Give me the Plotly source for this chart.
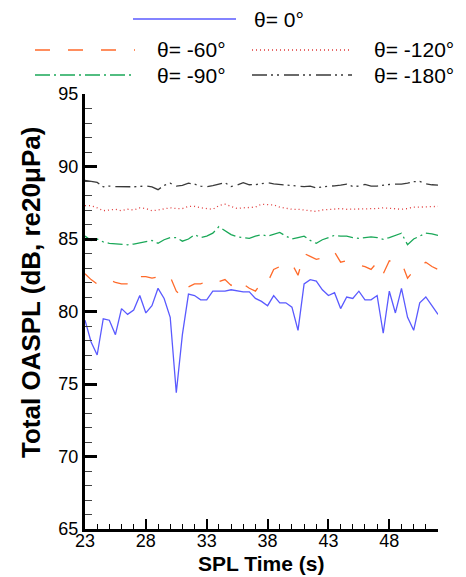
import plotly.graph_objects as go

time_s = [23.0 + 0.5 * i for i in range(59)]

oaspl_0 = [79.4, 77.9, 77.0, 79.5, 79.4, 78.4, 80.2, 79.8, 80.1, 81.1, 79.9, 80.4, 81.6, 80.9, 79.6,
           74.4, 78.4, 81.2, 81.1, 80.8, 80.8, 81.4, 81.4, 81.4, 81.5, 81.4, 81.35, 81.35, 80.9, 80.7,
           80.4, 81.1, 80.6, 80.6, 80.3, 78.7, 81.9, 82.2, 82.1, 81.5, 81.1, 81.3, 80.2, 81.0, 80.9,
           81.4, 80.8, 80.8, 81.1, 78.5, 81.4, 79.9, 81.6, 79.6, 78.7, 80.6, 81.0, 80.4, 79.8]

oaspl_m60 = [82.6, 82.2, 81.9, 82.1, 82.2, 82.0, 81.9, 81.9, 81.8, 82.4, 82.4, 82.3, 82.4, 82.5, 82.4,
             81.4, 81.0, 81.7, 81.9, 81.9, 82.1, 81.95, 82.06, 82.2, 81.8, 82.2, 81.9, 81.6, 81.4, 82.0,
             82.0, 82.9, 83.1, 83.2, 83.3, 82.5, 84.0, 83.8, 83.6, 83.7, 84.0, 84.1, 83.4, 83.5, 83.4,
             83.2, 83.1, 82.9, 83.4, 82.6, 83.5, 83.4, 83.4, 82.3, 82.8, 83.1, 83.4, 83.1, 82.9]

oaspl_m90 = [85.2, 84.9, 85.0, 84.8, 84.7, 84.66, 84.65, 84.6, 84.65, 84.75, 84.85, 84.9, 84.7, 84.95, 85.1,
             85.1, 84.85, 85.0, 85.3, 85.1, 85.2, 85.4, 85.85, 85.55, 85.3, 85.15, 85.1, 85.05, 85.2, 85.3,
             85.2, 85.3, 85.45, 85.2, 85.0, 85.1, 85.2, 84.9, 84.7, 84.95, 85.1, 85.25, 85.2, 85.2, 85.1,
             85.05, 85.1, 85.15, 85.1, 84.98, 85.1, 85.25, 85.4, 84.6, 85.0, 85.2, 85.4, 85.35, 85.25]

oaspl_m120 = [87.3, 87.3, 87.15, 86.95, 87.0, 87.05, 86.95, 87.05, 87.0, 87.15, 87.1, 86.95, 87.0, 87.05, 87.15,
              87.1, 87.1, 87.25, 87.25, 87.15, 87.1, 87.05, 87.3, 87.4, 87.25, 87.1, 87.15, 87.2, 87.2, 87.4,
              87.4, 87.35, 87.2, 87.1, 87.05, 87.05, 87.0, 86.95, 86.9, 87.0, 87.05, 87.1, 87.1, 87.05, 87.05,
              87.05, 87.05, 87.05, 87.1, 87.15, 87.1, 87.1, 87.05, 87.1, 87.2, 87.2, 87.2, 87.2, 87.25]

oaspl_m180 = [89.05, 88.95, 88.9, 88.6, 88.65, 88.62, 88.6, 88.58, 88.6, 88.62, 88.66, 88.6, 88.4, 88.7, 88.85,
              88.65, 88.7, 88.85, 88.78, 88.65, 88.6, 88.68, 88.8, 88.88, 88.62, 88.72, 88.88, 88.74, 88.75, 88.84,
              88.88, 88.8, 88.76, 88.72, 88.67, 88.63, 88.61, 88.65, 88.52, 88.6, 88.66, 88.67, 88.72, 88.78, 88.62,
              88.65, 88.76, 88.65, 88.65, 88.72, 88.76, 88.78, 88.78, 88.85, 88.95, 88.98, 88.8, 88.74, 88.72]

x_ticks = [23, 28, 33, 38, 43, 48]
y_ticks = [65, 70, 75, 80, 85, 90, 95]

FONT = "Liberation Sans, Arial, sans-serif"

# figure geometry (pixels) used to place the hand-built legend
W, H = 466, 577
ML, MR, MT, MB = 85, 28, 94, 48
PW, PH = W - ML - MR, H - MT - MB


def px_to_paper(px, py):
    return (px - ML) / PW, (H - MB - py) / PH


series = [
    # name, values, colour, dash, (line x0, line x1, text x, row y)
    ("θ= 0°", oaspl_0, "#5a5aff", "solid", (133, 236, 252, 19)),
    ("θ= -60°", oaspl_m60, "#ff6a2a", "15px,18px", (35, 135, 155, 50)),
    ("θ= -120°", oaspl_m120, "#e03a3a", "1px,3px", (252, 352, 372, 50)),
    ("θ= -90°", oaspl_m90, "#1aa858", "15px,4px,2px,4px", (35, 135, 155, 75)),
    ("θ= -180°", oaspl_m180, "#3a3a3a", "15px,4px,2px,4px,2px,5px", (252, 352, 372, 75)),
]

fig = go.Figure()
shapes, annotations = [], []
for name, vals, color, dash, (lx0, lx1, tx, ry) in series:
    fig.add_trace(go.Scatter(
        x=time_s, y=vals, mode="lines", name=name, showlegend=False,
        line=dict(color=color, width=1.3, dash=dash),
    ))
    x0, y0 = px_to_paper(lx0, ry)
    x1, _ = px_to_paper(lx1, ry)
    shapes.append(dict(type="line", xref="paper", yref="paper", x0=x0, x1=x1, y0=y0, y1=y0,
                       line=dict(color=color, width=1.3, dash=dash)))
    txp, typ = px_to_paper(tx, ry)
    annotations.append(dict(text=name, xref="paper", yref="paper", x=txp, y=typ,
                            xanchor="left", yanchor="middle", showarrow=False,
                            font=dict(family=FONT, size=21, color="black")))

# axis titles
ytx, yty = px_to_paper(31, 293)
annotations.append(dict(text="<b>Total OASPL (dB, re20μPa)</b>", xref="paper", yref="paper",
                        x=ytx, y=yty, xanchor="center", yanchor="middle", textangle=-90,
                        showarrow=False, font=dict(family=FONT, size=26, color="black")))
xtx, xty = px_to_paper(261, 563)
annotations.append(dict(text="<b>SPL Time (s)</b>", xref="paper", yref="paper",
                        x=xtx, y=xty, xanchor="center", yanchor="middle",
                        showarrow=False, font=dict(family=FONT, size=21, color="black")))

fig.update_layout(
    width=W, height=H,
    margin=dict(l=ML, r=MR, t=MT, b=MB, autoexpand=False),
    paper_bgcolor="white", plot_bgcolor="white",
    font=dict(family=FONT, size=18, color="black"),
    showlegend=False,
    shapes=shapes, annotations=annotations,
    xaxis=dict(
        range=[23, 52], tickvals=x_ticks, ticktext=[str(v) for v in x_ticks],
        ticks="inside", ticklen=10, tickwidth=2, tickcolor="black",
        minor=dict(dtick=1, tick0=23, ticks="inside", ticklen=5, tickwidth=1, tickcolor="black"),
        showline=True, linewidth=3, linecolor="black", showgrid=False, zeroline=False,
        tickfont=dict(family=FONT, size=18, color="black"), ticklabelstandoff=-7,
    ),
    yaxis=dict(
        range=[65, 95], tickvals=y_ticks, ticktext=[str(v) for v in y_ticks],
        ticks="inside", ticklen=12, tickwidth=3, tickcolor="black",
        minor=dict(dtick=1, tick0=65, ticks="inside", ticklen=7, tickwidth=1, tickcolor="#444"),
        showline=True, linewidth=3, linecolor="black", showgrid=False, zeroline=False,
        tickfont=dict(family=FONT, size=18, color="black"),
    ),
)

fig.write_html("out.html")
